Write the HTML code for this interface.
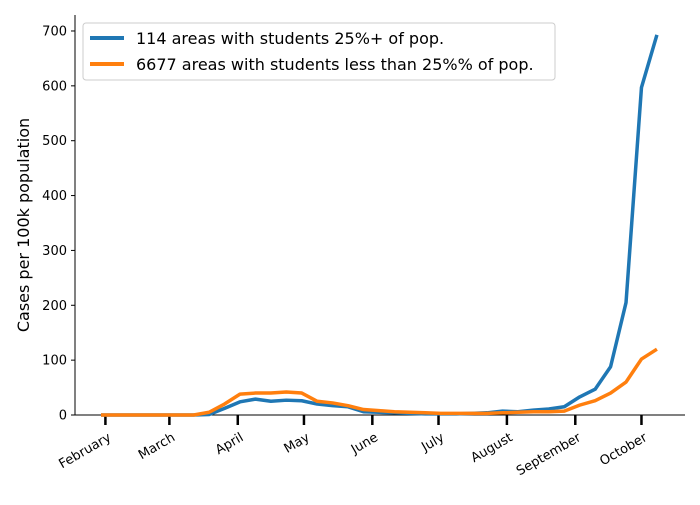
<!DOCTYPE html>
<html><head><meta charset="utf-8"><style>
body{margin:0;background:#fff;font-family:"Liberation Sans","DejaVu Sans",sans-serif}
</style></head><body>
<svg id="chart" width="700" height="500" xmlns="http://www.w3.org/2000/svg" font-family="DejaVu Sans, Liberation Sans, sans-serif">
<g id="axes"></g>
<g id="series"></g>
<g>
<rect x="83" y="23" width="472" height="57" rx="3" fill="#fff" fill-opacity="0.8" stroke="#ccc"/>
<line x1="90" y1="38" x2="124" y2="38" stroke="#1f77b4" stroke-width="4"/>
<text x="136" y="44" font-size="16">114 areas with students 25%+ of pop.</text>
<line x1="90" y1="64" x2="124" y2="64" stroke="#ff7f0e" stroke-width="4"/>
<text x="136" y="70" font-size="16">6677 areas with students less than 25%% of pop.</text>
</g>
<text transform="translate(29,225) rotate(-90)" text-anchor="middle" font-size="16">Cases per 100k population</text>
</svg>
<script>
const blueValues=[0,0,0,0,0,0,0,1,12,24,29,25,27,26,20,17,15,6,5,4,3,2,2,2,3,4,7,6,9,11,15,33,47,88,205,597,693];
const orangeValues=[0,0,0,0,0,0,0,5,20,38,40,40,42,40,25,22,17,10,8,6,5,4,3,3,3,3,4,5,6,6,7,18,26,40,60,102,120];
const monthLabels=["February","March","April","May","June","July","August","September","October"];
const monthDays=[2,31,62,92,123,153,184,215,245];
const yTicks=[0,100,200,300,400,500,600,700];
const ns="http://www.w3.org/2000/svg";
const xDay=d=>101+2.206*d;
const xWeek=i=>xDay(i*7);
const y=v=>415-v*0.5486;
function mk(t,a,p){const e=document.createElementNS(ns,t);for(const k in a)e.setAttribute(k,a[k]);p.appendChild(e);return e;}
const ax=document.getElementById('axes');
const sp1=mk('line',{x1:75,y1:15,x2:75,y2:415,stroke:'#000','stroke-width':1},ax);


const sp2=mk('line',{x1:75,y1:415,x2:685,y2:415,stroke:'#000','stroke-width':1},ax);


yTicks.forEach(v=>{
  mk('line',{x1:71,y1:y(v),x2:75,y2:y(v),stroke:'#000'},ax);
  const t=mk('text',{x:67,y:y(v)+4.5,'text-anchor':'end','font-size':13},ax);
  t.textContent=v;
  
  
});
monthDays.forEach((d,i)=>{
  const x=xDay(d);
  mk('line',{x1:x,y1:415,x2:x,y2:425,stroke:'#000','stroke-width':2.5},ax);
  const t=mk('text',{transform:`translate(${x+2},${432}) rotate(-30)`,'text-anchor':'end','font-size':13,y:9},ax);
  t.textContent=monthLabels[i];
  
  
});
const sg=document.getElementById('series');
function line(vals,color,name){
  const p=mk('polyline',{points:vals.map((v,i)=>xWeek(i)+','+y(v)).join(' '),fill:'none',stroke:color,'stroke-width':3.5,'stroke-linejoin':'round'},sg);
  
  
}
line(blueValues,'#1f77b4','series-students-25plus');
line(orangeValues,'#ff7f0e','series-students-under-25');
</script>
</body></html>
